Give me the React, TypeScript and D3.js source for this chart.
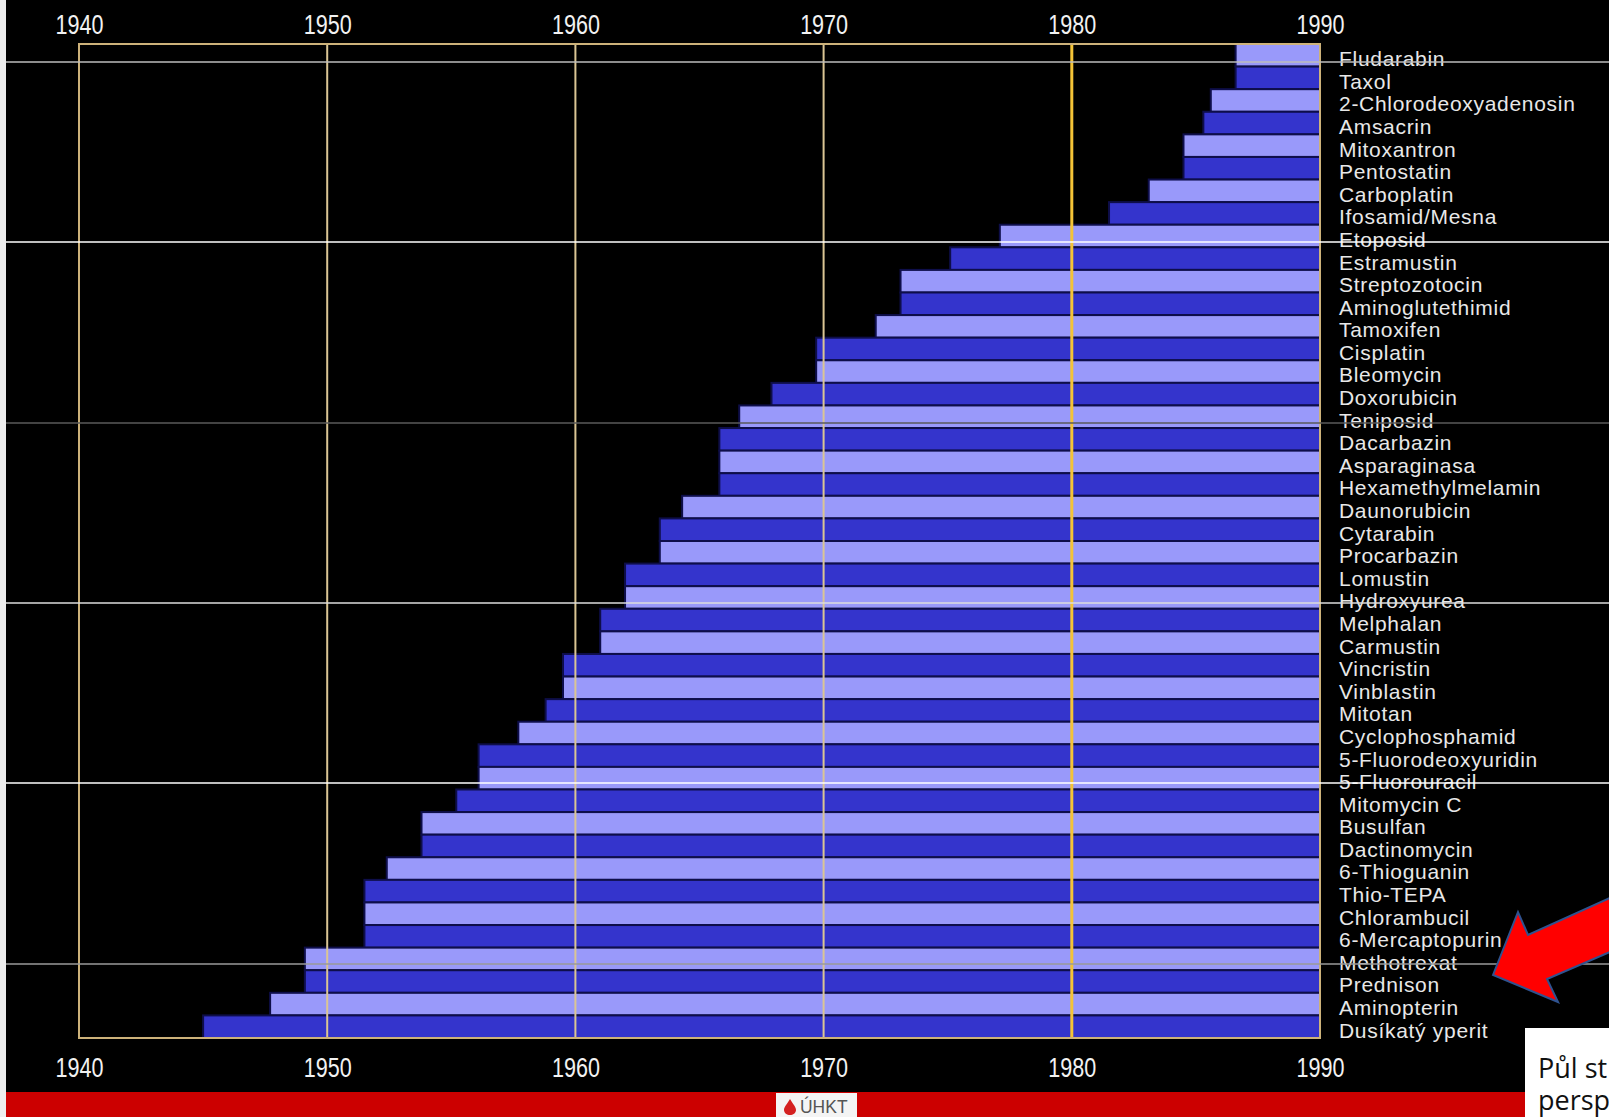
import * as d3 from 'd3';
import { useEffect, useRef } from 'react';

// drugs, top to bottom, with the year each one came into use (bar start)
const drugs = [
  'Fludarabin', 'Taxol', '2-Chlorodeoxyadenosin', 'Amsacrin', 'Mitoxantron',
  'Pentostatin', 'Carboplatin', 'Ifosamid/Mesna', 'Etoposid', 'Estramustin',
  'Streptozotocin', 'Aminoglutethimid', 'Tamoxifen', 'Cisplatin', 'Bleomycin',
  'Doxorubicin', 'Teniposid', 'Dacarbazin', 'Asparaginasa', 'Hexamethylmelamin',
  'Daunorubicin', 'Cytarabin', 'Procarbazin', 'Lomustin', 'Hydroxyurea',
  'Melphalan', 'Carmustin', 'Vincristin', 'Vinblastin', 'Mitotan',
  'Cyclophosphamid', '5-Fluorodeoxyuridin', '5-Fluorouracil', 'Mitomycin C', 'Busulfan',
  'Dactinomycin', '6-Thioguanin', 'Thio-TEPA', 'Chlorambucil', '6-Mercaptopurin',
  'Methotrexat', 'Prednison', 'Aminopterin', 'Dusíkatý yperit',
];

const startYears = [
  1986.6, 1986.6, 1985.6, 1985.3, 1984.5,
  1984.5, 1983.1, 1981.5, 1977.1, 1975.1,
  1973.1, 1973.1, 1972.1, 1969.7, 1969.7,
  1967.9, 1966.6, 1965.8, 1965.8, 1965.8,
  1964.3, 1963.4, 1963.4, 1962.0, 1962.0,
  1961.0, 1961.0, 1959.5, 1959.5, 1958.8,
  1957.7, 1956.1, 1956.1, 1955.2, 1953.8,
  1953.8, 1952.4, 1951.5, 1951.5, 1951.5,
  1949.1, 1949.1, 1947.7, 1945.0,
];

const yearTicks = [1940, 1950, 1960, 1970, 1980, 1990];
const endYear = 1990;

// horizontal scan lines of the slide photo
const scanLines = [
  { y: 62, color: '#bdbdbd' },
  { y: 242, color: '#ffffff' },
  { y: 423, color: '#5a5a5a' },
  { y: 603, color: '#dcdcdc' },
  { y: 783, color: '#ffffff' },
  { y: 964, color: '#9a9a9a' },
];

export default function App() {
  const chartRef = useRef<HTMLDivElement>(null);

  useEffect(() => {
    const width = 1609;
    const height = 1117;
    const plotLeft = 79;
    const plotRight = 1320;
    const plotTop = 44;
    const plotBottom = 1038;

    const x = d3.scaleLinear().domain([1940, 1990]).range([plotLeft, plotRight]);
    const y = d3.scaleBand().domain(drugs).range([plotTop, plotBottom]).padding(0);

    const root = d3.select(chartRef.current);
    root.selectAll('*').remove();

    const svg = root.append('svg')
      .attr('width', width)
      .attr('height', height)
      .style('display', 'block');

    svg.append('rect').attr('width', width).attr('height', height).attr('fill', '#000');
    svg.append('rect').attr('width', 6).attr('height', height).attr('fill', '#eeeeee');

    // bars
    const rows = drugs.map((name, i) => ({ name, start: startYears[i], i }));
    svg.append('g')
      .selectAll('rect')
      .data(rows)
      .join('rect')
      .attr('x', d => x(d.start))
      .attr('y', d => y(d.name)!)
      .attr('width', d => x(endYear) - x(d.start))
      .attr('height', y.bandwidth())
      .attr('fill', d => (d.i % 2 === 0 ? '#9999fa' : '#3434cc'))
      .attr('stroke', '#0e0e4a')
      .attr('stroke-width', 2);

    // vertical gridlines
    svg.append('g')
      .selectAll('line')
      .data(yearTicks.slice(1, -1))
      .join('line')
      .attr('x1', d => x(d))
      .attr('x2', d => x(d))
      .attr('y1', plotTop)
      .attr('y2', plotBottom)
      .attr('stroke', d => (d === 1980 ? '#f4c437' : '#dac594'))
      .attr('stroke-width', d => (d === 1980 ? 3 : 2));

    // plot frame
    svg.append('rect')
      .attr('x', plotLeft)
      .attr('y', plotTop)
      .attr('width', plotRight - plotLeft)
      .attr('height', plotBottom - plotTop)
      .attr('fill', 'none')
      .attr('stroke', '#cdb27a')
      .attr('stroke-width', 2);

    // year axes, top and bottom
    const styleYears = (g: any) => {
      g.select('.domain').remove();
      g.attr('font-family', '"Liberation Sans", Arial, sans-serif').attr('font-size', 28);
      g.selectAll('text').attr('fill', '#f2f2f2').attr('transform', 'scale(0.77,1)');
    };
    svg.append('g')
      .attr('transform', 'translate(0,34)')
      .call(d3.axisTop(x).tickValues(yearTicks).tickFormat(d3.format('d')).tickSize(0).tickPadding(0))
      .call(styleYears);
    svg.append('g')
      .attr('transform', 'translate(0,1057)')
      .call(d3.axisBottom(x).tickValues(yearTicks).tickFormat(d3.format('d')).tickSize(0).tickPadding(0))
      .call(styleYears);

    // drug names on the right
    const names = svg.append('g')
      .attr('transform', `translate(${plotRight},0)`)
      .call(d3.axisRight(y).tickSize(0).tickPadding(19));
    names.select('.domain').remove();
    names.attr('font-family', '"Liberation Sans", Arial, sans-serif').attr('font-size', 21);
    names.selectAll('text')
      .attr('fill', '#e8e8e8')
      .attr('dy', '0.52em')
      .attr('letter-spacing', 0.7);

    // scan lines
    svg.append('g')
      .selectAll('line')
      .data(scanLines)
      .join('line')
      .attr('x1', 6)
      .attr('x2', width)
      .attr('y1', d => d.y)
      .attr('y2', d => d.y)
      .attr('stroke', d => d.color)
      .attr('stroke-width', 1.5);

    // red footer band with logo
    svg.append('rect').attr('x', 6).attr('y', 1092).attr('width', width - 6).attr('height', 25).attr('fill', '#cc0000');
    const logo = svg.append('g');
    logo.append('rect').attr('x', 776).attr('y', 1093).attr('width', 81).attr('height', 24).attr('fill', '#f4f4f4');
    logo.append('path')
      .attr('d', 'M790,1099 C787,1104 784,1107 784,1110 C784,1113 787,1115 790,1115 C793,1115 796,1113 796,1110 C796,1107 793,1104 790,1099 Z')
      .attr('fill', '#d42020');
    logo.append('text')
      .attr('x', 800)
      .attr('y', 1113)
      .attr('font-family', '"Liberation Sans", Arial, sans-serif')
      .attr('font-size', 19)
      .attr('fill', '#555')
      .attr('transform', 'translate(800,0) scale(0.92,1) translate(-800,0)')
      .text('ÚHKT');

    // red arrow
    svg.append('polygon')
      .attr('points', [
        [1493, 975], [1518, 912], [1528, 935], [1612, 897],
        [1612, 951], [1547, 979], [1558, 1002],
      ].map(p => p.join(',')).join(' '))
      .attr('fill', '#ff0000')
      .attr('stroke', '#2f528f')
      .attr('stroke-width', 2);

    // white caption box (cut off at the edge of the slide)
    svg.append('rect').attr('x', 1525).attr('y', 1028).attr('width', width - 1525).attr('height', height - 1028).attr('fill', '#ffffff');
    const caption = svg.append('text')
      .attr('font-family', '"Open Sans", "Noto Sans", sans-serif')
      .attr('font-size', 27)
      .attr('fill', '#111');
    caption.append('tspan').attr('x', 1538).attr('y', 1078).text('Půl st');
    caption.append('tspan').attr('x', 1538).attr('y', 1110).text('persp');
  }, []);

  return <div ref={chartRef} style={{ position: 'absolute', left: 0, top: 0 }}></div>;
}
